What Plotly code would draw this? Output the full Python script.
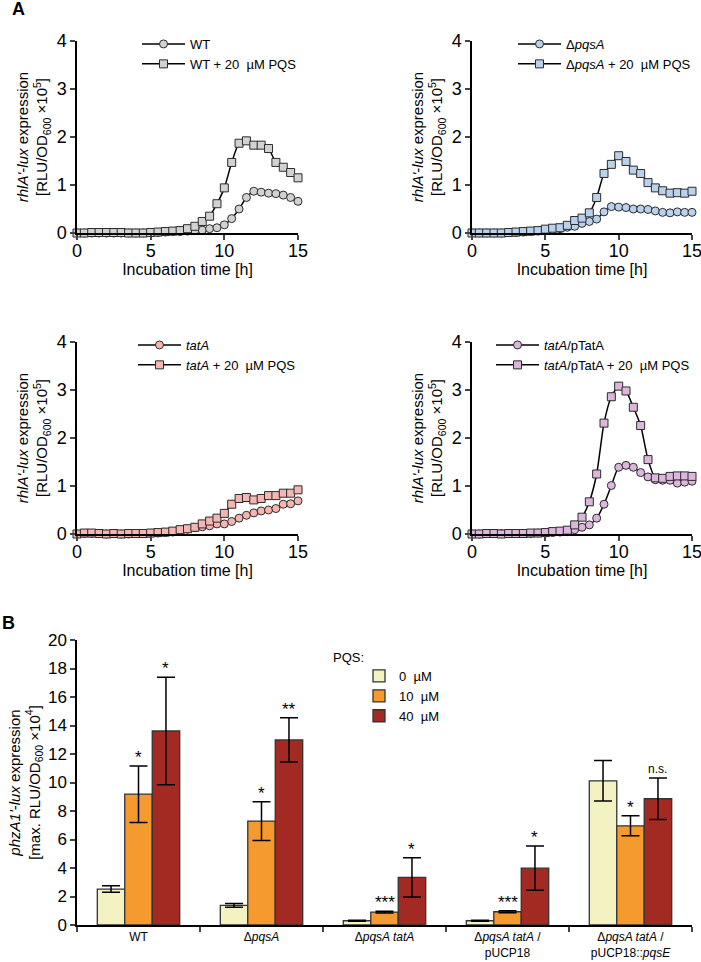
import plotly.graph_objects as go

W, H = 701, 962
FONT = "Liberation Sans, Arial, sans-serif"

# ---- panel A data: time course (h) and rhlA'-lux signal (x10^5) ----
time_h = [0, 0.5, 1, 1.5, 2, 2.5, 3, 3.5, 4, 4.5, 5, 5.5, 6, 6.5, 7, 7.5,
          8, 8.5, 9, 9.5, 10, 10.5, 11, 11.5, 12, 12.5, 13, 13.5, 14, 14.5, 15]

wt = [0.00, 0.00, 0.00, 0.00, 0.00, 0.00, 0.00, 0.00, 0.00, 0.00, 0.01, 0.01, 0.02, 0.03, 0.03, 0.04,
      0.05, 0.06, 0.09, 0.11, 0.17, 0.30, 0.50, 0.74, 0.87, 0.85, 0.83, 0.82, 0.79, 0.74, 0.66]
wt_pqs = [0.00, 0.00, 0.01, 0.01, 0.01, 0.01, 0.01, 0.00, 0.00, 0.00, 0.01, 0.02, 0.03, 0.04, 0.05, 0.09,
          0.14, 0.24, 0.35, 0.61, 0.94, 1.47, 1.87, 1.92, 1.83, 1.83, 1.76, 1.47, 1.37, 1.26, 1.15]

pqsa = [0.00, 0.00, 0.00, 0.00, 0.00, 0.01, 0.01, 0.02, 0.03, 0.04, 0.05, 0.07, 0.09, 0.12, 0.14, 0.20,
        0.24, 0.29, 0.44, 0.55, 0.54, 0.53, 0.50, 0.50, 0.49, 0.46, 0.43, 0.42, 0.44, 0.43, 0.43]
pqsa_pqs = [0.00, 0.00, 0.00, 0.00, 0.00, 0.01, 0.02, 0.03, 0.04, 0.05, 0.08, 0.10, 0.11, 0.16, 0.26, 0.31,
            0.42, 0.74, 1.24, 1.43, 1.61, 1.49, 1.31, 1.24, 1.05, 0.94, 0.88, 0.83, 0.84, 0.83, 0.87]

tata = [0.00, 0.01, 0.01, 0.01, 0.00, 0.01, 0.00, 0.00, 0.01, 0.01, 0.01, 0.02, 0.03, 0.04, 0.07, 0.10,
        0.13, 0.15, 0.17, 0.21, 0.21, 0.26, 0.33, 0.39, 0.44, 0.48, 0.50, 0.53, 0.62, 0.63, 0.69]
tata_pqs = [0.00, 0.02, 0.02, 0.01, 0.00, 0.01, 0.00, 0.01, 0.01, 0.01, 0.02, 0.03, 0.04, 0.06, 0.09, 0.11,
            0.14, 0.21, 0.27, 0.33, 0.43, 0.62, 0.74, 0.76, 0.71, 0.74, 0.80, 0.80, 0.85, 0.85, 0.92]

ptata = [0.00, 0.00, 0.01, 0.01, 0.01, 0.01, 0.01, 0.01, 0.01, 0.02, 0.02, 0.03, 0.04, 0.05, 0.09, 0.14,
         0.19, 0.33, 0.62, 1.01, 1.39, 1.43, 1.39, 1.28, 1.19, 1.13, 1.12, 1.12, 1.06, 1.08, 1.10]
ptata_pqs = [0.00, 0.00, 0.01, 0.01, 0.00, 0.01, 0.01, 0.01, 0.02, 0.02, 0.03, 0.05, 0.06, 0.08, 0.19, 0.35,
             0.67, 1.25, 2.31, 2.86, 3.08, 2.98, 2.64, 2.26, 1.55, 1.17, 1.16, 1.20, 1.21, 1.21, 1.20]

# ---- panel B data: max. phzA1'-lux (x10^4), mean and SD ----
strains = ["WT", "Δ<i>pqsA</i>", "Δ<i>pqsA tatA</i>",
           "Δ<i>pqsA tatA</i> /<br>pUCP18", "Δ<i>pqsA tatA</i> /<br>pUCP18::<i>pqsE</i>"]
pqs_0 = [2.52, 1.38, 0.30, 0.30, 10.12]
err_0 = [0.23, 0.13, 0.03, 0.03, 1.42]
pqs_10 = [9.18, 7.29, 0.91, 0.93, 6.96]
err_10 = [1.98, 1.36, 0.06, 0.07, 0.70]
pqs_40 = [13.62, 12.99, 3.34, 3.99, 8.86]
err_40 = [3.77, 1.55, 1.38, 1.56, 1.46]
sig_10 = ["*", "*", "***", "***", "*"]
sig_40 = ["*", "**", "*", "*", "n.s."]


def xd(a, b):
    return [a / W, b / W]


def yd(top, bottom):
    return [1 - bottom / H, 1 - top / H]


fig = go.Figure()

panels = [
    # (axis suffix, legend, circles, squares, colour, label, x px, y px, legend line start px)
    ("", "legend", wt, wt_pqs, "#d2d2d2", "WT", (77, 298), (41, 233), 142),
    ("2", "legend2", pqsa, pqsa_pqs, "#b9d1ea", "Δ<i>pqsA</i>", (472, 692), (41, 233), 518),
    ("3", "legend3", tata, tata_pqs, "#f4b6b1", "<i>tatA</i>", (77, 298), (342, 534), 138),
    ("4", "legend4", ptata, ptata_pqs, "#dcb6dc", "<i>tatA</i>/pTatA", (472, 692), (342, 534), 496),
]

layout_axes = {}
legends = {}
for suf, leg, circ, sq, col, label, (x0, x1), (y0, y1), lx in panels:
    for vals, sym, name in [(circ, "circle", label), (sq, "square", label + " + 20  µM PQS")]:
        fig.add_trace(go.Scatter(
            x=time_h, y=vals, mode="lines+markers", name=name,
            xaxis="x" + suf, yaxis="y" + suf, legend=leg,
            line=dict(color="black", width=1.5, shape="spline", smoothing=0.6),
            marker=dict(symbol=sym, size=8, color=col, line=dict(color="#2b2b2b", width=1)),
            cliponaxis=False,
        ))
    layout_axes["xaxis" + suf] = dict(
        domain=xd(x0, x1), range=[0, 15], anchor="y" + suf, automargin=False,
        tickvals=[0, 5, 10, 15], ticks="outside", ticklen=5, tickwidth=1.5,
        ticklabelstandoff=-4, ticklabeloverflow="allow",
        showline=True, linecolor="black", linewidth=1.5, showgrid=False, zeroline=False,
        tickfont=dict(size=18, color="black"),
        title=dict(text="Incubation time [h]", font=dict(size=16, color="black"), standoff=0),
    )
    layout_axes["yaxis" + suf] = dict(
        domain=yd(y0, y1), range=[0, 4], anchor="x" + suf, automargin=False,
        tickvals=[0, 1, 2, 3, 4], ticks="outside", ticklen=5, tickwidth=1.5,
        showline=True, linecolor="black", linewidth=1.5, showgrid=False, zeroline=False,
        tickfont=dict(size=18, color="black"),
        title=dict(text="<i>rhlA'</i>-<i>lux</i> expression<br>[RLU/OD<sub>600</sub> ×10<sup>5</sup>]",
                   font=dict(size=15, color="black"), standoff=5),
    )
    legends[leg] = dict(
        x=(lx - 5) / W, y=1 - (y0 - 12) / H, xanchor="left", yanchor="top",
        bgcolor="rgba(0,0,0,0)", font=dict(size=13, color="black"),
        itemwidth=43, tracegroupgap=0,
    )

# ---- panel B bars ----
bar_sets = [
    ("0  µM", pqs_0, err_0, "#f3f2c3"),
    ("10  µM", pqs_10, err_10, "#f49a2f"),
    ("40  µM", pqs_40, err_40, "#a32a22"),
]
for name, vals, err, col in bar_sets:
    fig.add_trace(go.Bar(
        x=strains, y=vals, name=name, xaxis="x5", yaxis="y5", legend="legend5",
        marker=dict(color=col, line=dict(color="#333333", width=1.3)),
        error_y=dict(type="data", array=err, visible=True, color="black", thickness=1.5, width=9),
    ))

layout_axes["xaxis5"] = dict(
    domain=xd(77, 692), anchor="y5", type="category", range=[-0.5, 4.5], automargin=False,
    tickson="boundaries", ticks="outside", ticklen=5, tickwidth=1.5,
    showline=True, linecolor="black", linewidth=1.5, showgrid=False,
    tickfont=dict(size=12, color="black"),
)
layout_axes["yaxis5"] = dict(
    domain=yd(640, 925), anchor="x5", range=[0, 20], dtick=2, automargin=False,
    ticks="outside", ticklen=5, tickwidth=1.5,
    showline=True, linecolor="black", linewidth=1.5, showgrid=False, zeroline=False,
    tickfont=dict(size=17, color="black"),
    title=dict(text="<i>phzA1'</i>-<i>lux</i> expression<br>[max. RLU/OD<sub>600</sub> ×10<sup>4</sup>]",
               font=dict(size=15, color="black"), standoff=4),
)
legends["legend5"] = dict(
    x=359 / W, y=1 - 661 / H, xanchor="left", yanchor="top",
    bgcolor="rgba(0,0,0,0)", font=dict(size=13, color="black"),
    itemwidth=30, tracegroupgap=0,
)

annotations = [
    dict(text="<b>A</b>", x=10 / W, y=1 - 9 / H, xref="paper", yref="paper",
         xanchor="left", yanchor="middle", showarrow=False, font=dict(size=18)),
    dict(text="<b>B</b>", x=0, y=1 - 623 / H, xref="paper", yref="paper",
         xanchor="left", yanchor="middle", showarrow=False, font=dict(size=18)),
    dict(text="PQS:", x=331 / W, y=1 - 657 / H, xref="paper", yref="paper",
         xanchor="left", yanchor="middle", showarrow=False, font=dict(size=13)),
]
offset = 0.223
for i in range(len(strains)):
    for k, vals, err, sig in [(0, pqs_10, err_10, sig_10), (1, pqs_40, err_40, sig_40)]:
        s = sig[i]
        annotations.append(dict(
            text=s, x=i + k * offset, y=vals[i] + err[i], xref="x5", yref="y5",
            xanchor="center", yanchor="bottom", showarrow=False,
            font=dict(size=12 if s == "n.s." else 17), yshift=-3 if s != "n.s." else 0,
        ))

fig.update_layout(
    width=W, height=H, margin=dict(l=0, r=0, t=0, b=0),
    paper_bgcolor="white", plot_bgcolor="white",
    font=dict(family=FONT, color="black"),
    barmode="group", bargap=0.33, bargroupgap=0,
    annotations=annotations,
    **layout_axes, **legends,
)

# the page body has a default 8px margin; drop it so the figure sits at the window origin
fig.write_html("out.html", config={"displayModeBar": False},
               post_script="document.body.style.margin='0px';")
